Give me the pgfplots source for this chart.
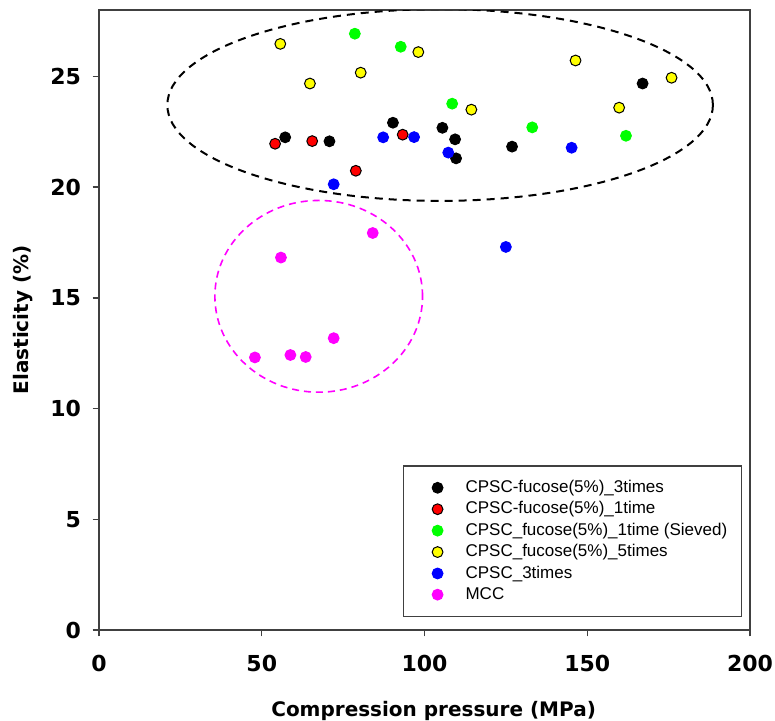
\documentclass[border=0pt]{standalone}
\usepackage{pgfplots}
\pgfplotsset{compat=1.18}
\usepackage{fontspec}
\setmainfont{Liberation Sans}
\newfontfamily\dejavu{DejaVu Sans}

\definecolor{axgray}{HTML}{404040}
\definecolor{cred}{RGB}{255,0,0}
\definecolor{cgreen}{RGB}{0,255,0}
\definecolor{cyellow}{RGB}{255,255,0}
\definecolor{cblue}{RGB}{0,0,255}
\definecolor{cmag}{RGB}{255,0,255}

\pgfplotsset{
  pt/.style={only marks, mark=*, mark size=2.7pt, mark options={line width=0.5pt, fill=#1}},
}

% Compression pressure (MPa) vs elasticity (%)
\pgfplotstableread{
x y
57.2 22.25
70.8 22.07
90.3 22.91
105.5 22.68
109.4 22.16
109.7 21.30
126.9 21.83
167.0 24.68
}\blackdata
\pgfplotstableread{
x y
54.1 21.96
65.5 22.08
78.9 20.74
93.3 22.37
}\reddata
\pgfplotstableread{
x y
78.6 26.93
92.7 26.34
108.5 23.77
133.1 22.70
161.9 22.32
}\greendata
\pgfplotstableread{
x y
55.7 26.47
64.8 24.68
80.4 25.17
98.1 26.10
114.4 23.50
146.4 25.72
159.8 23.59
175.9 24.94
}\yellowdata
\pgfplotstableread{
x y
72.1 20.13
87.3 22.25
96.8 22.26
107.3 21.56
125.0 17.30
145.2 21.78
}\bluedata
\pgfplotstableread{
x y
47.9 12.31
55.9 16.82
58.8 12.42
63.5 12.33
72.1 13.18
84.1 17.93
}\mccdata

\begin{document}
\begin{tikzpicture}
\useasboundingbox (-49.5pt,-45pt) rectangle (338pt,315pt);
\begin{axis}[
  at={(0,0)}, anchor=south west,
  scale only axis, width=325.5pt, height=310pt,
  xmin=0, xmax=200, ymin=0, ymax=28,
  xtick={0,50,...,200}, ytick={0,5,...,25},
  tick align=outside, xtick pos=left, ytick pos=left,
  major tick length=3.2pt,
  axis line style={axgray, line width=0.7pt},
  tick style={axgray, line width=0.7pt},
  /pgf/number format/assume math mode=true,
  ticklabel style={font=\dejavu\bfseries\fontsize{11}{13}\selectfont},
  xticklabel style={yshift=-6pt},
  yticklabel style={xshift=-2.3pt},
  xlabel={Compression pressure (MPa)},
  ylabel={Elasticity (\%)},
  label style={font=\dejavu\bfseries\fontsize{10}{12}\selectfont},
  xlabel style={at={([yshift=-32pt]axis description cs:0.514,0)}, anchor=north},
  ylabel style={at={([xshift=-38pt]axis description cs:0,0.5)}, anchor=center},
  legend style={at={(0.9877,0.021)}, anchor=south east, draw=axgray,
    line width=0.7pt, font=\fontsize{8.5}{10}\selectfont,
    inner xsep=5pt, inner ysep=6pt, row sep=0.85pt,
    nodes={inner ysep=1.1pt}},
  legend cell align=left,
  legend image code/.code={\path[draw=none, fill=none] (0pt,-2pt) rectangle (24pt,2pt);
    \draw[#1] plot coordinates {(12pt,0pt)};},
]
\draw[black, line width=1pt, dash pattern=on 4pt off 3pt]
  (axis cs:104.8,23.71) ellipse [x radius=83.8, y radius=4.33];
\draw[cmag, line width=0.8pt, dash pattern=on 3.5pt off 2.5pt]
  (axis cs:67.5,15.07) ellipse [x radius=31.9, y radius=4.33];

\addplot[pt=black, black] table {\blackdata};
\addlegendentry{CPSC-fucose(5\%)\_3times}
\addplot[pt=cred, black] table {\reddata};
\addlegendentry{CPSC-fucose(5\%)\_1time}
\addplot[pt=cgreen, cgreen] table {\greendata};
\addlegendentry{CPSC\_fucose(5\%)\_1time (Sieved)}
\addplot[pt=cyellow, black] table {\yellowdata};
\addlegendentry{CPSC\_fucose(5\%)\_5times}
\addplot[pt=cblue, cblue] table {\bluedata};
\addlegendentry{CPSC\_3times}
\addplot[pt=cmag, cmag] table {\mccdata};
\addlegendentry{MCC}
\end{axis}
\end{tikzpicture}
\end{document}
